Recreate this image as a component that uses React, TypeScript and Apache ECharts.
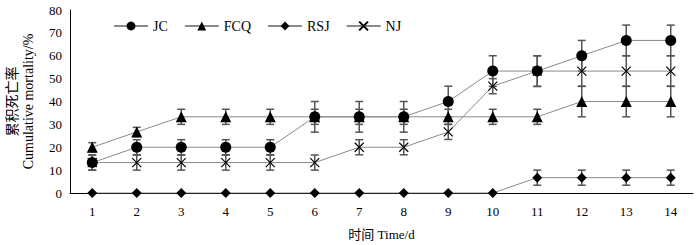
import React, { useEffect, useRef } from "react";
import * as echarts from "echarts";

const days = ["1", "2", "3", "4", "5", "6", "7", "8", "9", "10", "11", "12", "13", "14"];
const seriesNames = ["JC", "FCQ", "RSJ", "NJ"];
const jc = [13.3, 20, 20, 20, 20, 33.3, 33.3, 33.3, 40, 53.3, 53.3, 60, 66.7, 66.7];
const fcq = [20, 26.7, 33.3, 33.3, 33.3, 33.3, 33.3, 33.3, 33.3, 33.3, 33.3, 40, 40, 40];
const rsj = [0, 0, 0, 0, 0, 0, 0, 0, 0, 0, 6.7, 6.7, 6.7, 6.7];
const nj = [13.3, 13.3, 13.3, 13.3, 13.3, 13.3, 20, 20, 26.7, 46.7, 53.3, 53.3, 53.3, 53.3];
const jcErr = [3.3, 3.3, 3.3, 3.3, 3.3, 6.7, 6.7, 6.7, 6.7, 6.7, 6.7, 6.7, 6.7, 6.7];
const fcqErr = [2, 2, 3.3, 3.3, 3.3, 3.3, 3.3, 3.3, 3.3, 3.3, 3.3, 6.7, 6.7, 6.7];
const rsjErr = [0, 0, 0, 0, 0, 0, 0, 0, 0, 0, 3.3, 3.3, 3.3, 3.3];
const njErr = [3.3, 3.3, 3.3, 3.3, 3.3, 3.3, 3.3, 3.3, 3.3, 3.3, 6.7, 6.7, 6.7, 6.7];
const yTicks = [0, 10, 20, 30, 40, 50, 60, 70, 80];

const FONT = "'Liberation Serif', 'Times New Roman', 'Noto Sans CJK SC', serif";

function errData(vals: number[], errs: number[]) {
  return vals
    .map((v, i) => [i, v - errs[i], v + errs[i], errs[i]])
    .filter((d) => d[3] > 0);
}

function errSeries(vals: number[], errs: number[]) {
  return {
    type: "custom",
    silent: true,
    z: 1,
    encode: { x: 0, y: [1, 2] },
    data: errData(vals, errs),
    renderItem: (_params: any, api: any) => {
      const x = api.value(0);
      const top = api.coord([x, api.value(2)]);
      const bot = api.coord([x, api.value(1)]);
      const w = 4;
      const st = { stroke: "#555", lineWidth: 1.5 };
      return {
        type: "group",
        children: [
          { type: "line", shape: { x1: top[0], y1: top[1], x2: bot[0], y2: bot[1] }, style: st },
          { type: "line", shape: { x1: top[0] - w, y1: top[1], x2: top[0] + w, y2: top[1] }, style: st },
          { type: "line", shape: { x1: bot[0] - w, y1: bot[1], x2: bot[0] + w, y2: bot[1] }, style: st },
        ],
      };
    },
  };
}

function lineSeries(name: string, vals: number[], symbol: string, size: number, cross = false) {
  return {
    name,
    type: "line",
    data: vals,
    z: 3,
    symbol,
    symbolSize: size,
    showAllSymbol: true,
    lineStyle: { color: "#8a8a8a", width: 1 },
    itemStyle: cross
      ? { color: "#fff", borderColor: "#000", borderWidth: 1.2, opacity: 1 }
      : { color: "#000", borderColor: "#000", borderWidth: 0 },
    emphasis: { disabled: true },
  };
}

export default function App() {
  const ref = useRef<HTMLDivElement>(null);
  useEffect(() => {
    document.body.style.margin = "0";
    const chart = echarts.init(ref.current!, null, { renderer: "svg" });
    const crossPath = "path://M0,0L10,10M10,0L0,10";
    chart.setOption({
      animation: false,
      backgroundColor: "#fff",
      textStyle: { fontFamily: FONT },
      grid: { left: 70, right: 7, top: 10, bottom: 52, outerBoundsMode: "none", containLabel: false },
      legend: {
        top: 14,
        left: 108,
        itemGap: 16,
        itemWidth: 34,
        itemHeight: 11,
        textStyle: { fontFamily: FONT, fontSize: 14, color: "#000" },
        data: seriesNames,
      },
      xAxis: {
        type: "category",
        data: days,
        boundaryGap: true,
        axisLine: { lineStyle: { color: "#000", width: 1 } },
        axisTick: { inside: true, length: 4, lineStyle: { color: "#000" } },
        axisLabel: { color: "#000", fontSize: 13, fontFamily: FONT, margin: 12 },
        name: "时间 Time/d",
        nameLocation: "middle",
        nameGap: 35,
        nameTextStyle: { color: "#000", fontSize: 13, fontFamily: FONT },
      },
      yAxis: {
        type: "value",
        min: yTicks[0],
        max: yTicks[yTicks.length - 1],
        interval: 10,
        splitLine: { show: false },
        axisLine: { show: true, lineStyle: { color: "#000", width: 1 } },
        axisTick: { show: false },
        axisLabel: { color: "#000", fontSize: 13, fontFamily: FONT, margin: 8 },
        name: "{a|累积死亡率}\n{b|Cumulative mortality/%}",
        nameLocation: "middle",
        nameRotate: 90,
        nameGap: 34,
        nameTextStyle: {
          color: "#000",
          rich: {
            a: { fontFamily: FONT, fontSize: 14, lineHeight: 16, color: "#000" },
            b: { fontFamily: FONT, fontSize: 14, lineHeight: 16, color: "#000" },
          },
        },
      },
      series: [
        errSeries(jc, jcErr),
        errSeries(fcq, fcqErr),
        errSeries(rsj, rsjErr),
        errSeries(nj, njErr),
        lineSeries("JC", jc, "circle", 11),
        lineSeries("FCQ", fcq, "triangle", 11),
        lineSeries("RSJ", rsj, "diamond", 10),
        lineSeries("NJ", nj, crossPath, 9, true),
      ],
    });
    return () => chart.dispose();
  }, []);
  return <div ref={ref} style={{ width: 700, height: 245 }} />;
}
